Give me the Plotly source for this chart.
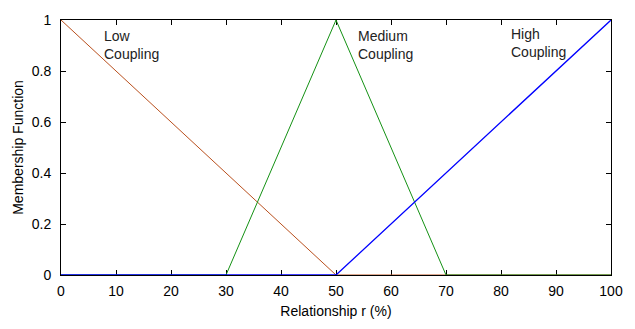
import plotly.graph_objects as go

low_x = [0, 50, 100]
low_y = [1, 0, 0]
med_x = [0, 30, 50, 70, 100]
med_y = [0, 0, 1, 0, 0]
high_x = [0, 50, 100]
high_y = [0, 0, 1]

labels = [("Low<br>Coupling", 7.4, 0.975), ("Medium<br>Coupling", 53.6, 0.975), ("High<br>Coupling", 81.5, 0.986)]

FONT = "Liberation Sans, Arial"
fig = go.Figure()
fig.add_trace(go.Scatter(x=low_x, y=low_y, mode="lines", line=dict(color="rgb(185,80,30)", width=1)))
fig.add_trace(go.Scatter(x=med_x, y=med_y, mode="lines", line=dict(color="rgb(20,145,20)", width=1)))
fig.add_trace(go.Scatter(x=high_x, y=high_y, mode="lines", line=dict(color="rgb(0,0,255)", width=1.3)))

for t, x, y in labels:
    fig.add_annotation(x=x, y=y, text=t, showarrow=False, xanchor="left", yanchor="top", align="left",
                       font=dict(family=FONT, size=14, color="#222"))

axis_common = dict(showline=True, linecolor="black", linewidth=1, mirror="ticks", ticks="inside",
                   ticklen=5, tickcolor="black", showgrid=False, zeroline=False, layer="below traces",
                   tickfont=dict(family=FONT, size=14, color="black"))
fig.update_xaxes(range=[0, 100], dtick=10, ticklabelstandoff=3,
                 title=dict(text="Relationship r (%)", standoff=8,
                            font=dict(family=FONT, size=14, color="black")), **axis_common)
fig.update_yaxes(range=[0, 1], dtick=0.2, ticklabelstandoff=6,
                 title=dict(text="Membership Function", standoff=4,
                            font=dict(family=FONT, size=14, color="black")), **axis_common)
fig.update_layout(width=635, height=329, margin=dict(l=61, r=24, t=14, b=51), showlegend=False,
                  plot_bgcolor="white", paper_bgcolor="white")
fig.write_html("out.html")
